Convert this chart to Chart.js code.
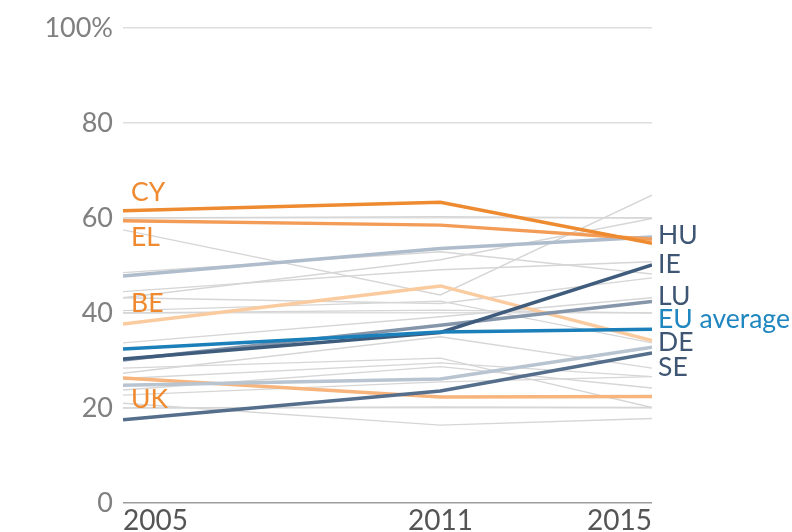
<!DOCTYPE html>
<html>
<head>
<meta charset="utf-8">
<style>
  html, body { margin: 0; padding: 0; background: #fff; }
  #wrap { width: 792px; height: 532px; }
</style>
<script src="https://cdn.jsdelivr.net/npm/chart.js@4/dist/chart.umd.min.js"></script>
</head>
<body>
<div id="wrap"><canvas id="slopeChart"></canvas></div>
<script>
const years = [2005, 2011, 2015];
const yTicks = [0, 20, 40, 60, 80, 100];

// highlighted countries (share, %)
const CY = [61.5, 63.3, 54.7];
const EL = [59.4, 58.5, 55.5];
const HU = [47.8, 53.6, 56.0];
const BE = [37.7, 45.7, 34.2];
const IE = [30.3, 35.9, 50.1];
const LU = [30.1, 37.4, 42.4];
const EU = [32.4, 36.0, 36.6];
const DE = [24.8, 26.1, 32.8];
const SE = [17.5, 23.6, 31.6];
const UK = [26.3, 22.3, 22.4];

// other member states, drawn in grey
const others = [
  [57.5, 43.8, 64.8],
  [43.2, 51.2, 59.9],
  [60.0, 60.3, 60.0],
  [44.5, 49.1, 50.8],
  [48.5, 52.9, 48.2],
  [43.2, 42.0, 47.4],
  [40.0, 40.6, 40.0],
  [33.7, 39.2, 43.2],
  [40.5, 42.5, 33.7],
  [28.4, 30.5, 20.1],
  [27.3, 35.0, 28.4],
  [26.2, 29.5, 26.6],
  [23.8, 28.7, 24.2],
  [22.7, 25.5, 26.6],
  [20.0, 20.2, 20.1],
  [21.0, 16.4, 17.8]
];

// end labels: text, side, value where the label sits
const labelText = ['CY', 'EL', 'BE', 'UK', 'HU', 'IE', 'LU', 'EU average', 'DE', 'SE'];
const labelSide = ['left', 'left', 'left', 'left', 'right', 'right', 'right', 'right', 'right', 'right'];
const labelValue = [65.3, 56.0, 42.1, 21.9, 56.4, 50.3, 43.4, 38.7, 33.9, 28.6];
const labelColor = ['#ef8a30', '#ef8a30', '#ef8a30', '#ef8a30', '#3e5573', '#3e5573', '#3e5573', '#1f86c0', '#3e5573', '#3e5573'];

function pts(arr) {
  return arr.map((v, i) => ({ x: years[i], y: v }));
}

function line(label, arr, color, width, order) {
  return {
    label: label,
    data: pts(arr),
    borderColor: color,
    borderWidth: width,
    pointRadius: 0,
    tension: 0,
    fill: false,
    order: order
  };
}

const datasets = [
  line('EU average', EU, '#1b7fba', 3.5, 0),
  line('CY', CY, '#ee8a2f', 3.5, 1),
  line('EL', EL, '#f39c57', 3.5, 1),
  line('IE', IE, '#3f5c7d', 3.5, 1),
  line('SE', SE, '#546e8c', 3.5, 1),
  line('LU', LU, '#8595aa', 3.5, 1),
  line('HU', HU, '#afbccb', 3.5, 1),
  line('DE', DE, '#b9c4d1', 3.5, 1),
  line('BE', BE, '#fbcba0', 3.5, 1),
  line('UK', UK, '#f7b47d', 3.5, 1)
];
others.forEach((arr, i) => datasets.push(line('other ' + (i + 1), arr, '#d6d6d6', 1.4, 2)));

const endLabels = {
  id: 'endLabels',
  afterDatasetsDraw(chart) {
    const ctx = chart.ctx;
    const xs = chart.scales.x;
    const ys = chart.scales.y;
    ctx.save();
    ctx.font = '26.5px Lato';
    ctx.textBaseline = 'middle';
    ctx.textAlign = 'left';
    labelText.forEach((t, i) => {
      const x = labelSide[i] === 'left' ? xs.getPixelForValue(years[0]) + 8 : xs.getPixelForValue(years[2]) + 6;
      ctx.fillStyle = labelColor[i];
      ctx.fillText(t, x, ys.getPixelForValue(labelValue[i]));
    });
    ctx.restore();
  }
};

const ctx = document.getElementById('slopeChart').getContext('2d');
new Chart(ctx, {
  type: 'line',
  data: { datasets: datasets },
  options: {
    responsive: true,
    maintainAspectRatio: false,
    animation: false,
    layout: { padding: { top: 28, right: 140, left: 0, bottom: 0 } },
    plugins: { legend: { display: false }, tooltip: { enabled: false } },
    scales: {
      x: {
        type: 'linear',
        min: 2005,
        max: 2015,
        afterBuildTicks: (s) => { s.ticks = years.map(v => ({ value: v })); },
        afterFit: (s) => { s.height = 29; },
        grid: { display: false },
        border: { display: false },
        ticks: {
          align: 'inner',
          padding: -7,
          color: '#555',
          font: { family: 'Lato', size: 28 },
          callback: (v) => String(v)
        }
      },
      y: {
        min: 0,
        max: 100,
        afterBuildTicks: (s) => { s.ticks = yTicks.map(v => ({ value: v })); },
        afterFit: (s) => { s.width = 123; },
        border: { display: false },
        grid: {
          drawTicks: false,
          color: (c) => c.tick && c.tick.value === 0 ? '#9c9c9c' : '#dedede',
          lineWidth: 1.5
        },
        ticks: {
          padding: 10,
          color: '#808080',
          font: { family: 'Lato', size: 27 },
          callback: (v) => v === 100 ? '100%' : String(v)
        }
      }
    }
  },
  plugins: [endLabels]
});
</script>
</body>
</html>
